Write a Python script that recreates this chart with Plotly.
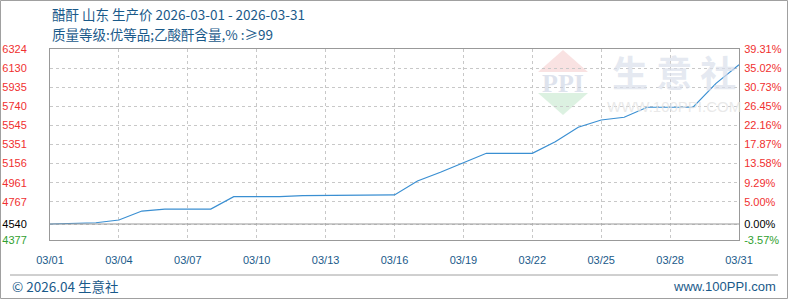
import plotly.graph_objects as go

dates = ["2026-03-%02d" % d for d in range(1, 32)]
prices = [4540, 4550, 4553, 4581, 4672, 4692, 4692, 4692, 4819, 4819, 4819,
          4829, 4829, 4829, 4829, 4836, 4979, 5067, 5165, 5261, 5261, 5261,
          5379, 5526, 5600, 5628, 5730, 5730, 5730, 5974, 6164]
ytick_vals = [4377, 4540, 4767, 4961, 5156, 5351, 5545, 5740, 5935, 6130, 6324]
ytick_pct = ["-3.57%", "0.00%", "5.00%", "9.29%", "13.58%", "17.87%", "22.16%",
             "26.45%", "30.73%", "35.02%", "39.31%"]
xtick_idx = list(range(0, 31, 3))
base_value = 4540

W, H = 788, 300
L, R, T, B = 50, 739, 49, 240
pw, ph = R - L, B - T

def px(x):
    return (x - L) / pw

def py(y):
    return (B - y) / ph

RED, GREEN, BLACK = "#f03030", "#30a030", "#000000"

def col(v):
    if v > base_value:
        return RED
    if v < base_value:
        return GREEN
    return BLACK

left_text = ['<span style="color:%s">%d</span>' % (col(v), v) for v in ytick_vals]
right_text = ['<span style="color:%s">%s</span>' % (col(v), t) for v, t in zip(ytick_vals, ytick_pct)]

fig = go.Figure()
fig.add_trace(go.Scatter(x=dates, y=prices, mode="lines",
                         line=dict(color="#3a8fd2", width=1.2),
                         hoverinfo="x+y", showlegend=False))
fig.add_trace(go.Scatter(x=dates, y=prices, mode="lines", yaxis="y2",
                         line=dict(color="rgba(0,0,0,0)", width=0),
                         hoverinfo="skip", showlegend=False))

grid = dict(showgrid=True, gridcolor="#c8c8c8", griddash="3px,3px", gridwidth=1)
fig.update_layout(
    width=W, height=H,
    margin=dict(l=L, r=W - R, t=T, b=H - B, pad=0, autoexpand=False),
    paper_bgcolor="white", plot_bgcolor="white",
    font=dict(family="Liberation Sans, Arial, sans-serif", size=11),
    xaxis=dict(range=[dates[0], dates[-1]], type="date", automargin=False,
               tickvals=[dates[i] for i in xtick_idx],
               ticktext=[dates[i][5:7] + "/" + dates[i][8:10] for i in xtick_idx],
               tickfont=dict(color="#1a5a8a", size=11),
               ticks="outside", ticklen=10, tickcolor="rgba(0,0,0,0)",
               showline=True, linecolor="#999999", linewidth=1, mirror=True,
               zeroline=False, fixedrange=True, **grid),
    yaxis=dict(range=[ytick_vals[0], ytick_vals[-1]], automargin=False,
               tickvals=ytick_vals, ticktext=left_text,
               ticks="outside", ticklen=20, tickcolor="rgba(0,0,0,0)",
               showline=True, linecolor="#999999", linewidth=1, mirror=True,
               zeroline=False, fixedrange=True, **grid),
    yaxis2=dict(range=[ytick_vals[0], ytick_vals[-1]], overlaying="y", side="right",
                automargin=False,
                tickvals=ytick_vals, ticktext=right_text,
                ticks="outside", ticklen=2, tickcolor="rgba(0,0,0,0)",
                showgrid=False, zeroline=False, showline=False, fixedrange=True),
)

shapes = []
shapes.append(dict(type="line", xref="paper", yref="y", x0=0, x1=1,
                   y0=base_value, y1=base_value, line=dict(color="#999999", width=1)))
shapes.append(dict(type="path", xref="paper", yref="paper", layer="below",
                   path="M %f %f L %f %f L %f %f Z" % (px(563), py(50), px(538), py(72), px(588), py(72)),
                   fillcolor="rgba(242,190,190,0.45)", line=dict(width=0)))
shapes.append(dict(type="path", xref="paper", yref="paper", layer="below",
                   path="M %f %f L %f %f L %f %f Z" % (px(538), py(93), px(588), py(93), px(563), py(115)),
                   fillcolor="rgba(185,228,195,0.5)", line=dict(width=0)))
shapes.append(dict(type="line", xref="paper", yref="paper", x0=px(10), x1=px(778),
                   y0=py(275), y1=py(275), line=dict(color="#a0a0a0", width=1)))
shapes.append(dict(type="rect", xref="paper", yref="paper", x0=px(0.5), x1=px(787.5),
                   y0=py(298.5), y1=py(0.5), line=dict(color="#a0a0a0", width=1)))
fig.update_layout(shapes=shapes)

TITLE_C = "#1a5a8a"
cjk = "Noto Sans CJK SC, sans-serif"
ann = []
ann.append(dict(text="醋酐 山东 生产价 2026-03-01 - 2026-03-31", x=px(50), y=py(14),
                xref="paper", yref="paper", xanchor="left", yanchor="middle",
                showarrow=False, font=dict(family=cjk, size=13.5, color=TITLE_C)))
ann.append(dict(text="质量等级:优等品;乙酸酐含量,% :≥99", x=px(50), y=py(34),
                xref="paper", yref="paper", xanchor="left", yanchor="middle",
                showarrow=False, font=dict(family=cjk, size=13.5, color=TITLE_C)))
ann.append(dict(text="© 2026.04 生意社", x=px(10), y=py(286),
                xref="paper", yref="paper", xanchor="left", yanchor="middle",
                showarrow=False, font=dict(family=cjk, size=13.5, color=TITLE_C)))
ann.append(dict(text="www.100PPI.com", x=px(778), y=py(286),
                xref="paper", yref="paper", xanchor="right", yanchor="middle",
                showarrow=False, font=dict(family="Liberation Sans, sans-serif", size=13, color=TITLE_C)))
ann.append(dict(text="<b>PPI</b>", x=px(563), y=py(83),
                xref="paper", yref="paper", xanchor="center", yanchor="middle",
                showarrow=False, font=dict(family="Liberation Serif, serif", size=26, color="rgba(200,208,225,0.6)")))
ann.append(dict(text="<b>生 意 社</b>", x=px(674), y=py(71),
                xref="paper", yref="paper", xanchor="center", yanchor="middle",
                showarrow=False, font=dict(family=cjk, size=36, color="rgba(218,223,235,0.7)")))
ann.append(dict(text="WWW.100PPI.COM", x=px(674), y=py(106),
                xref="paper", yref="paper", xanchor="center", yanchor="middle",
                showarrow=False, font=dict(family="Liberation Sans, sans-serif", size=15, color="rgba(228,228,228,0.8)")))
fig.update_layout(annotations=ann)

fig.write_html("out.html")
